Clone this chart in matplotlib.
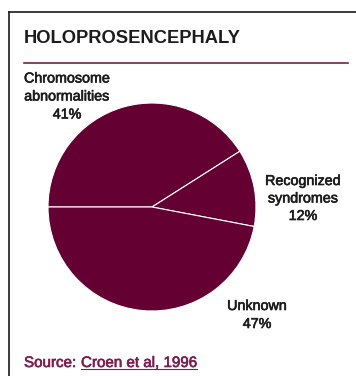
import matplotlib
matplotlib.use("Agg")
import matplotlib.pyplot as plt
from matplotlib.lines import Line2D
import matplotlib.patheffects as pe

# data
labels = ["Chromosome\nabnormalities", "Recognized\nsyndromes", "Unknown"]
values = [41, 12, 47]
title = "HOLOPROSENCEPHALY"
source_prefix = "Source: "
source_link = "Croen et al, 1996"

W, H = 356, 376
maroon = "#650032"
link_col = "#7d1c4f"
txt_col = "#1c1c1c"
plt.rcParams['font.family'] = ['Liberation Sans', 'DejaVu Sans']

fig = plt.figure(figsize=(W / 100, H / 100), dpi=100)


def fx(x):
    return x / W


def fy(y):
    return 1 - y / H


def heavy(c):
    # the reference text is rendered a bit heavier than plain regular
    return [pe.withStroke(linewidth=0.45, foreground=c)]


# frame (only left and top visible in the crop)
fig.add_artist(Line2D([fx(9), fx(9)], [fy(12), fy(H)], color="#1a1a1a", lw=1.2))
fig.add_artist(Line2D([fx(9), fx(W)], [fy(12), fy(12)], color="#1a1a1a", lw=1.2))

# title and rule under it
fig.text(fx(24), fy(43), title, fontsize=13.2, fontweight="bold", color=txt_col, va="baseline")
fig.add_artist(Line2D([fx(24), fx(348)], [fy(62.5), fy(62.5)], color="#7a1f4f", lw=1.2))

# pie: centre (152, 207), radius 104 px
cx, cy, r = 152, 207, 104
ax = fig.add_axes([fx(cx - r), fy(cy + r), 2 * r / W, 2 * r / H])
ax.pie(values, startangle=180, counterclock=False, colors=[maroon] * 3,
       wedgeprops=dict(edgecolor="white", linewidth=0.8))
ax.set_xlim(-1, 1)
ax.set_ylim(-1, 1)
ax.set_aspect("auto")
ax.axis("off")

# labels: (centre x, first baseline, line spacing) in px
label_pos = [(67, 82.5, 18), (303, 185, 17.5), (257, 310, 18)]
for lab, v, (x, y, sp) in zip(labels, values, label_pos):
    lines = lab.split("\n") + [f"{v}%"]
    for i, line in enumerate(lines):
        fig.text(fx(x), fy(y + i * sp), line, fontsize=10.3, color=txt_col,
                 ha="center", va="baseline", path_effects=heavy(txt_col))

# source line with underlined link
fig.text(fx(24), fy(367), source_prefix, fontsize=10.9, color=link_col, va="baseline",
         path_effects=heavy(link_col))
fig.text(fx(81), fy(367), source_link, fontsize=10.9, color=link_col, va="baseline",
         path_effects=heavy(link_col))
fig.add_artist(Line2D([fx(81), fx(197)], [fy(369), fy(369)], color=link_col, lw=0.8))

fig.savefig("out.png", dpi=100, facecolor="white")
